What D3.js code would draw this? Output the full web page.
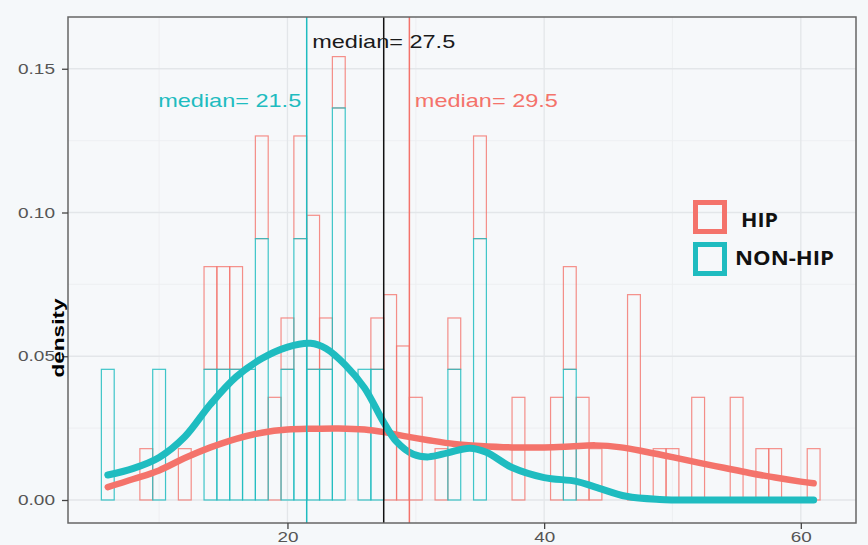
<!DOCTYPE html>
<html>
<head>
<meta charset="utf-8">
<script src="https://cdn.jsdelivr.net/npm/d3@7"></script>
<style>
  body { margin: 0; background: #f5f8fa; overflow: hidden; }
  svg { display: block; }
</style>
</head>
<body>
<svg id="chart"></svg>
<script>
// bins of width 1, centred on whole ages
const binCenters = [6, 7, 8, 9, 10, 11, 12, 13, 14, 15, 16, 17, 18, 19, 20, 21, 22, 23, 24, 25,
    26, 27, 28, 29, 30, 31, 32, 33, 34, 35, 36, 37, 38, 39, 40, 41, 42, 43, 44, 45,
    46, 47, 48, 49, 50, 51, 52, 53, 54, 55, 56, 57, 58, 59, 60, 61];

const nonHipCounts = [1, 0, 0, 0, 1, 0, 0, 0, 1, 1, 1, 1, 2, 0, 1, 2, 1, 1, 3, 0,
    1, 1, 0, 0, 0, 0, 0, 1, 0, 2, 0, 0, 0, 0, 0, 0, 1, 0, 0, 0,
    0, 0, 0, 0, 0, 0, 0, 0, 0, 0, 0, 0, 0, 0, 0, 0];

const hipCounts = [0, 0, 0, 1, 0, 0, 1, 0, 2, 2, 2, 0, 2, 2, 1, 2, 3, 1, 1, 0,
    0, 1, 4, 3, 2, 0, 1, 1, 0, 2, 0, 0, 2, 0, 0, 2, 2, 2, 1, 0,
    0, 4, 0, 1, 1, 0, 2, 0, 0, 2, 0, 1, 1, 0, 0, 1];

// smoothed density curves: [age, density]
const hipDensity = [[6, 0.0045], [8, 0.0073], [10, 0.0103], [12, 0.0146], [14, 0.0183], [16, 0.0213],
    [18, 0.0234], [20, 0.0245], [22, 0.0248], [24, 0.0249], [26, 0.0245], [27.5, 0.0236],
    [29, 0.0223], [31, 0.0208], [33, 0.0195], [35, 0.0188], [37.5, 0.0183], [40, 0.0183],
    [42, 0.0186], [44, 0.019], [46, 0.0183], [48, 0.0167], [50, 0.0149], [52, 0.013],
    [54, 0.0112], [56, 0.0094], [58, 0.0078], [60, 0.0064], [61, 0.0058]];

const nonHipDensity = [[6, 0.0087], [8, 0.011], [10, 0.0148], [12, 0.022], [14, 0.0333], [16, 0.0428],
    [18, 0.0492], [20, 0.0532], [21.8, 0.0545], [23, 0.0527], [24.5, 0.047], [26, 0.039],
    [27.5, 0.027], [28.5, 0.0203], [29.8, 0.0159], [31, 0.015], [32.5, 0.0164], [34.2, 0.018],
    [35.5, 0.0166], [37.5, 0.0113], [40, 0.0078], [42.5, 0.0065], [44, 0.0045], [46.4, 0.0013],
    [49, 0.0002], [52, 0], [55, 0], [58, 0], [61, 0]];

const medianValues = [21.5, 27.5, 29.5];
const medianLabels = ["median= 21.5", "median= 27.5", "median= 29.5"];
const groups = ["HIP", "NON-HIP"];

const red = "#f4736b", cyan = "#1fbcc0";

const width = 868, height = 545;
const panel = { left: 68, right: 856, top: 17, bottom: 523 };

const svg = d3.select("#chart")
    .attr("width", width)
    .attr("height", height)
    .style("font-family", "'Liberation Sans', Arial, sans-serif");

const x = d3.scaleLinear().domain([2.9, 64.3]).range([panel.left, panel.right]);
const y = d3.scaleLinear().domain([-0.008, 0.168]).range([panel.bottom, panel.top]);

const nHip = d3.sum(hipCounts), nNonHip = d3.sum(nonHipCounts);
const bins = binCenters.map((c, i) => ({
    c,
    non: nonHipCounts[i] / nNonHip,
    hip: hipCounts[i] / nHip
}));

// panel background + grid
svg.append("rect")
    .attr("x", panel.left).attr("y", panel.top)
    .attr("width", panel.right - panel.left).attr("height", panel.bottom - panel.top)
    .attr("fill", "#f6f8fa");

const grid = svg.append("g");
grid.selectAll(".gx-minor").data([10, 30, 50]).enter().append("line")
    .attr("x1", d => x(d)).attr("x2", d => x(d))
    .attr("y1", panel.top).attr("y2", panel.bottom)
    .attr("stroke", "#eceef0").attr("stroke-width", 0.8);
grid.selectAll(".gy-minor").data([0.025, 0.075, 0.125]).enter().append("line")
    .attr("x1", panel.left).attr("x2", panel.right)
    .attr("y1", d => y(d)).attr("y2", d => y(d))
    .attr("stroke", "#eceef0").attr("stroke-width", 0.8);
grid.selectAll(".gx").data([20, 40, 60]).enter().append("line")
    .attr("x1", d => x(d)).attr("x2", d => x(d))
    .attr("y1", panel.top).attr("y2", panel.bottom)
    .attr("stroke", "#e3e6e9").attr("stroke-width", 1.3);
grid.selectAll(".gy").data([0, 0.05, 0.1, 0.15]).enter().append("line")
    .attr("x1", panel.left).attr("x2", panel.right)
    .attr("y1", d => y(d)).attr("y2", d => y(d))
    .attr("stroke", "#e3e6e9").attr("stroke-width", 1.3);

// stacked histogram: HIP sits on top of NON-HIP
svg.append("g").selectAll("rect")
    .data(bins).enter().append("rect")
    .attr("x", d => x(d.c - 0.5))
    .attr("width", d => x(d.c + 0.5) - x(d.c - 0.5))
    .attr("y", d => y(d.non + d.hip))
    .attr("height", d => y(d.non) - y(d.non + d.hip))
    .attr("fill", "none")
    .attr("stroke", red).attr("stroke-opacity", 0.8)
    .attr("stroke-width", 1.2);

svg.append("g").selectAll("rect")
    .data(bins).enter().append("rect")
    .attr("x", d => x(d.c - 0.5))
    .attr("width", d => x(d.c + 0.5) - x(d.c - 0.5))
    .attr("y", d => y(d.non))
    .attr("height", d => y(0) - y(d.non))
    .attr("fill", "none")
    .attr("stroke", cyan).attr("stroke-opacity", 0.85)
    .attr("stroke-width", 1.2);

// density curves
const line = d3.line()
    .x(d => x(d[0]))
    .y(d => y(d[1]))
    .curve(d3.curveCatmullRom);

svg.append("path")
    .attr("d", line(hipDensity))
    .attr("fill", "none").attr("stroke", red)
    .attr("stroke-width", 6.5).attr("stroke-linecap", "round");

svg.append("path")
    .attr("d", line(nonHipDensity))
    .attr("fill", "none").attr("stroke", cyan)
    .attr("stroke-width", 7).attr("stroke-linecap", "round");

// median lines
const medianColors = [cyan, "#111", red];
svg.append("g").selectAll("line")
    .data(medianValues).enter().append("line")
    .attr("x1", d => x(d)).attr("x2", d => x(d))
    .attr("y1", panel.top).attr("y2", panel.bottom)
    .attr("stroke", (d, i) => medianColors[i])
    .attr("stroke-width", 1.5);

// median labels, placed like ggplot annotate()
const labelX = [medianValues[0] - 6, medianValues[1], medianValues[2] + 6];
const labelY = [0.139, 0.1595, 0.139];
svg.append("g").selectAll("text")
    .data(medianLabels).enter().append("text")
    .attr("x", (d, i) => x(labelX[i]))
    .attr("y", (d, i) => y(labelY[i]))
    .attr("dy", "0.36em")
    .attr("text-anchor", "middle")
    .attr("textLength", 143)
    .attr("lengthAdjust", "spacingAndGlyphs")
    .style("font-size", "19px")
    .style("fill", (d, i) => medianColors[i] === "#111" ? "#1a1a1a" : medianColors[i])
    .text(d => d);

// panel border
svg.append("rect")
    .attr("x", panel.left).attr("y", panel.top)
    .attr("width", panel.right - panel.left).attr("height", panel.bottom - panel.top)
    .attr("fill", "none").attr("stroke", "#666").attr("stroke-width", 1.5);

// axes
const yAxis = svg.append("g")
    .attr("transform", `translate(${panel.left},0)`)
    .call(d3.axisLeft(y).tickValues([0, 0.05, 0.1, 0.15]).tickFormat(d3.format(".2f")).tickSize(6).tickPadding(7));
const xAxis = svg.append("g")
    .attr("transform", `translate(0,${panel.bottom})`)
    .call(d3.axisBottom(x).tickValues([20, 40, 60]).tickSize(6).tickPadding(3));

[yAxis, xAxis].forEach(a => {
    a.select(".domain").remove();
    a.selectAll("line").attr("stroke", "#444").attr("stroke-width", 1.3);
    a.selectAll("text")
        .attr("fill", "#555")
        .attr("lengthAdjust", "spacingAndGlyphs")
        .style("font-size", "14.5px")
        .style("font-family", "'Liberation Sans', Arial, sans-serif");
});
yAxis.selectAll("text").attr("textLength", 37);
xAxis.selectAll("text").attr("textLength", 21);

// y title
svg.append("text")
    .attr("transform", "translate(64,338) rotate(-90)")
    .attr("text-anchor", "middle")
    .attr("textLength", 79)
    .attr("lengthAdjust", "spacingAndGlyphs")
    .style("font-size", "17px")
    .style("font-weight", "bold")
    .style("fill", "#000")
    .text("density");

// legend
const legend = svg.append("g").attr("transform", "translate(693,200)");
const legendColors = [red, cyan];
const legendWidths = [37, 99];
const legendItems = legend.selectAll("g")
    .data(groups).enter().append("g")
    .attr("transform", (d, i) => `translate(0,${i * 42})`);
legendItems.append("rect")
    .attr("x", 2.5).attr("y", 2.5)
    .attr("width", 29).attr("height", 29)
    .attr("fill", "none")
    .attr("stroke", (d, i) => legendColors[i])
    .attr("stroke-width", 5);
legendItems.append("text")
    .attr("x", (d, i) => i === 0 ? 48 : 42)
    .attr("y", (d, i) => i === 0 ? 26.5 : 23)
    .attr("textLength", (d, i) => legendWidths[i])
    .attr("lengthAdjust", "spacingAndGlyphs")
    .style("font-family", "'Open Sans', sans-serif")
    .style("font-size", "20px")
    .style("font-weight", "bold")
    .style("fill", "#111")
    .text(d => d);
</script>
</body>
</html>
